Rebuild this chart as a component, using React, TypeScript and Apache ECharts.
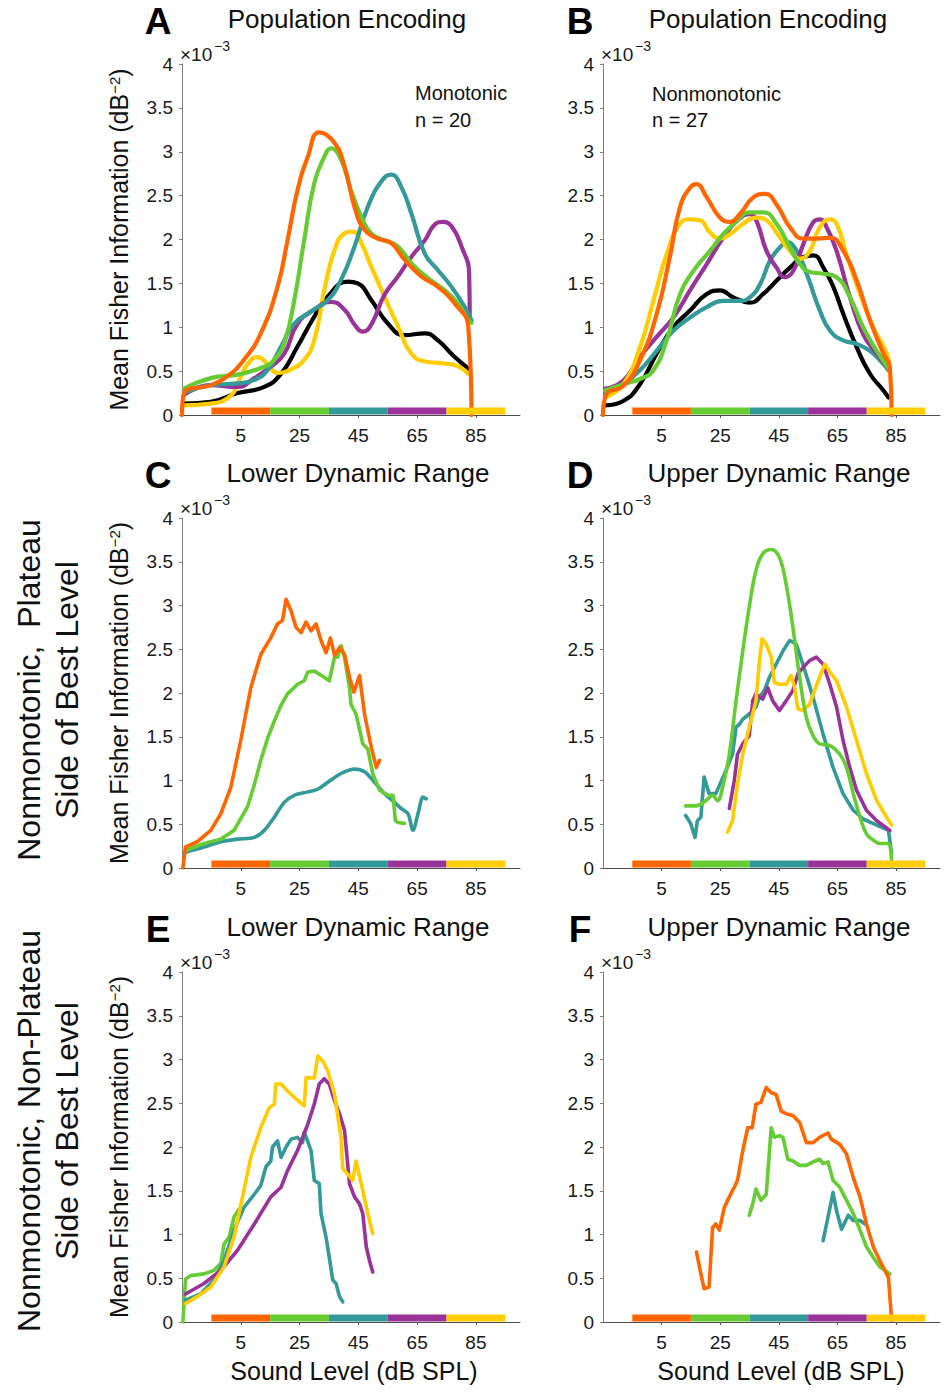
import React, { useEffect, useRef } from 'react';
import * as echarts from 'echarts';

const FONT = '"Liberation Sans", Arial, Helvetica, sans-serif';
const ORANGE = '#FF6600';
const GREEN = '#66CC33';
const TEAL = '#339999';
const PURPLE = '#993399';
const YELLOW = '#FFCC00';
const BLACK = '#000000';

const xTicks = [5, 25, 45, 65, 85];
const bandStarts = [-5, 15, 35, 55, 75];
const bandWidth = 20;
const bandColors = [ORANGE, GREEN, TEAL, PURPLE, YELLOW];

// Panel A (Monotonic, population encoding)
const aBlack = [[-14.3,0.13],[-5.2,0.15],[3.9,0.25],[13.0,0.32],[18.7,0.47],[24.3,0.78],[30.0,1.12],[34.6,1.35],[41.4,1.52],[44.8,1.50],[49.4,1.31],[55.1,1.04],[60.7,0.91],[67.6,0.93],[72.1,0.85],[77.8,0.66],[82.4,0.53]];
const aYellow = [[-14.3,0.11],[-5.2,0.13],[1.6,0.22],[4.5,0.40],[7.3,0.58],[10.7,0.66],[14.1,0.58],[17.5,0.48],[22.1,0.52],[26.6,0.63],[30.0,0.85],[33.4,1.42],[36.9,1.88],[40.3,2.07],[43.1,2.09],[46.0,1.96],[49.4,1.69],[53.9,1.35],[58.5,1.01],[63.0,0.70],[67.6,0.61],[73.3,0.59],[77.8,0.57],[82.4,0.47]];
const aPurple = [[-14.3,0.23],[-5.2,0.34],[3.9,0.32],[9.6,0.42],[15.2,0.55],[19.8,0.70],[24.3,1.04],[30.0,1.20],[35.7,1.29],[40.3,1.20],[43.7,1.03],[46.5,0.95],[49.4,1.03],[53.9,1.37],[58.5,1.58],[63.0,1.80],[67.6,1.99],[71.0,2.17],[73.8,2.20],[76.7,2.15],[80.1,1.92],[82.7,1.61],[82.9,1.08]];
const aTeal = [[-14.3,0.25],[-5.2,0.34],[3.9,0.36],[9.6,0.40],[14.1,0.51],[18.7,0.78],[23.2,1.04],[28.9,1.18],[34.6,1.31],[39.1,1.54],[43.7,1.92],[48.2,2.37],[52.8,2.66],[56.2,2.74],[59.6,2.60],[63.0,2.30],[67.6,1.84],[72.1,1.65],[76.7,1.46],[81.2,1.23],[83.5,1.08]];
const aGreen = [[-14.3,0.30],[-5.2,0.42],[3.9,0.46],[13.0,0.55],[16.4,0.63],[19.8,0.82],[23.2,1.31],[26.6,2.00],[30.0,2.64],[33.4,2.94],[35.7,3.04],[39.1,2.91],[42.5,2.56],[46.0,2.26],[49.4,2.07],[53.9,1.99],[58.5,1.92],[63.0,1.73],[68.7,1.56],[74.4,1.42],[78.9,1.27],[82.4,1.08],[83.5,1.05]];
const aOrange = [[-15,0],[-14.3,0.25],[-5.2,0.34],[0.4,0.44],[6.1,0.63],[11.8,0.93],[17.5,1.46],[20.9,1.99],[24.3,2.56],[27.8,2.94],[31.7,3.22],[36.9,3.10],[40.3,2.83],[43.7,2.37],[47.1,2.11],[51.6,2.01],[56.2,1.96],[60.7,1.77],[66.4,1.58],[72.1,1.46],[77.8,1.27],[82.4,1.01],[83.5,0]];

// Panel B (Nonmonotonic, population encoding)
const bBlack = [[-14.3,0.11],[-8.1,0.16],[-2.4,0.35],[3.3,0.70],[9.0,1.00],[14.7,1.19],[20.4,1.38],[24.9,1.42],[29.5,1.34],[35.1,1.28],[39.7,1.38],[44.2,1.53],[48.8,1.68],[53.4,1.80],[56.8,1.82],[60.2,1.68],[63.6,1.46],[67.0,1.15],[71.6,0.77],[76.1,0.47],[80.7,0.28],[82.4,0.20]];
const bTeal = [[-14.3,0.24],[-8.1,0.35],[-2.4,0.51],[3.3,0.73],[9.0,0.96],[14.7,1.11],[20.4,1.23],[26.0,1.30],[31.7,1.30],[35.1,1.34],[38.6,1.49],[42.0,1.76],[45.4,1.91],[47.7,1.97],[51.1,1.87],[54.5,1.61],[59.0,1.19],[62.5,0.96],[67.0,0.85],[71.6,0.81],[76.1,0.73],[80.7,0.58],[82.4,0.51]];
const bPurple = [[-14.3,0.30],[-8.1,0.39],[-2.4,0.66],[3.3,0.89],[9.0,1.11],[14.7,1.42],[20.4,1.72],[26.0,2.02],[30.6,2.21],[35.1,2.29],[37.4,2.21],[40.8,1.87],[44.2,1.68],[47.1,1.57],[49.9,1.64],[53.4,1.95],[56.8,2.20],[59.0,2.23],[61.3,2.14],[64.7,1.87],[69.3,1.34],[73.8,0.92],[78.4,0.70],[82.9,0.51]];
const bYellow = [[-14.3,0.20],[-8.1,0.35],[-2.4,0.77],[2.2,1.30],[6.7,1.83],[11.3,2.18],[14.7,2.23],[18.1,2.22],[21.5,2.08],[24.9,2.01],[28.3,2.06],[32.9,2.18],[37.4,2.25],[40.8,2.22],[44.2,2.08],[48.8,1.87],[52.2,1.78],[55.6,1.87],[59.0,2.14],[62.5,2.23],[64.7,2.18],[68.1,1.83],[72.7,1.38],[77.2,1.00],[81.8,0.70],[82.9,0.54]];
const bGreen = [[-14.3,0.28],[-8.1,0.35],[-2.4,0.41],[2.2,0.51],[6.7,0.85],[11.3,1.38],[15.8,1.64],[21.5,1.87],[26.0,2.06],[30.6,2.21],[35.1,2.31],[39.7,2.31],[44.2,2.18],[48.8,1.91],[52.2,1.72],[55.6,1.63],[60.2,1.61],[64.7,1.57],[69.3,1.34],[73.8,1.00],[78.4,0.73],[82.9,0.51]];
const bOrange = [[-15,0],[-13.8,0.24],[-8.1,0.33],[-2.4,0.62],[3.3,1.15],[7.8,1.80],[11.3,2.37],[14.7,2.59],[16.9,2.63],[20.4,2.48],[24.9,2.25],[28.3,2.20],[31.7,2.29],[36.3,2.48],[40.3,2.52],[44.2,2.40],[48.8,2.14],[53.4,2.01],[57.9,2.01],[62.5,2.02],[67.0,1.87],[71.6,1.53],[76.1,1.08],[80.7,0.70],[82.9,0.54],[83.5,0]];

// Panel C (plateau side, lower dynamic range)
const cTeal = [[-13.8,0.18],[-7.5,0.24],[-1.8,0.30],[3.9,0.33],[9.6,0.35],[13.0,0.43],[16.4,0.58],[19.8,0.75],[23.2,0.83],[27.8,0.87],[31.2,0.90],[34.6,0.98],[39.1,1.08],[43.7,1.13],[47.1,1.10],[50.5,0.98],[53.9,0.85],[57.3,0.75],[59.6,0.68],[61.9,0.62],[63.6,0.43],[65.3,0.62],[67.0,0.81],[68.1,0.79]];
const cGreen = [[-13.8,0.20],[-7.5,0.28],[-1.8,0.33],[2.7,0.43],[7.3,0.70],[9.6,0.95],[11.8,1.23],[14.1,1.48],[16.4,1.68],[18.7,1.86],[20.9,1.99],[24.3,2.10],[26.6,2.14],[27.8,2.24],[30.0,2.25],[33.4,2.18],[35.1,2.14],[36.9,2.41],[38.0,2.41],[39.1,2.54],[40.3,2.41],[42.0,2.06],[42.5,1.87],[44.2,1.76],[46.5,1.42],[48.2,1.36],[49.9,1.08],[52.2,0.89],[55.1,0.83],[56.8,0.83],[57.6,0.54],[58.5,0.52],[60.7,0.51]];
const cOrange = [[-14.7,0],[-13.8,0.24],[-9.8,0.30],[-5.2,0.43],[-1.8,0.62],[1.6,0.92],[5.0,1.46],[8.4,2.06],[11.8,2.44],[15.2,2.63],[17.5,2.79],[19.2,2.83],[20.4,3.07],[22.1,2.94],[23.8,2.75],[25.5,2.69],[27.2,2.81],[28.9,2.71],[30.6,2.79],[32.3,2.60],[34.0,2.46],[35.5,2.63],[36.9,2.43],[38.6,2.52],[40.3,2.44],[42.0,2.18],[43.5,2.01],[45.4,2.20],[47.1,1.76],[49.4,1.38],[51.1,1.15],[52.2,1.23]];

// Panel D (plateau side, upper dynamic range)
const dTeal = [[13.2,0.60],[14.9,0.51],[16.4,0.35],[17.2,0.54],[18.4,0.58],[19.5,1.04],[21.2,0.85],[23.5,0.85],[25.2,0.98],[26.9,1.11],[29.2,1.30],[30.4,1.61],[31.5,1.64],[32.7,1.70],[34.9,1.76],[37.2,1.84],[38.4,1.95],[40.1,2.03],[41.8,2.18],[44.1,2.33],[46.4,2.48],[48.7,2.60],[50.9,2.56],[53.2,2.33],[56.7,1.95],[60.1,1.53],[63.5,1.15],[66.9,0.85],[70.4,0.66],[73.8,0.56],[78.4,0.49],[82.4,0.43],[83.5,0.16]];
const dPurple = [[28.1,0.68],[29.8,1.00],[30.9,1.30],[32.7,1.42],[34.9,1.51],[36.1,1.91],[37.2,1.99],[39.5,1.93],[41.2,2.06],[42.9,1.91],[45.2,1.80],[47.5,1.91],[49.8,2.03],[51.5,2.22],[53.2,2.29],[55.5,2.37],[57.8,2.41],[60.1,2.33],[62.4,2.10],[64.7,1.84],[66.9,1.46],[69.2,1.15],[71.5,0.89],[74.9,0.66],[78.4,0.54],[82.9,0.43]];
const dYellow = [[27.5,0.41],[29.2,0.54],[30.9,0.96],[32.7,1.30],[34.9,1.61],[37.2,1.91],[38.4,2.37],[39.3,2.62],[40.7,2.56],[42.4,2.41],[43.5,2.12],[45.2,2.10],[47.5,2.10],[49.2,2.20],[50.4,2.06],[51.5,1.82],[53.2,1.80],[55.5,1.87],[57.2,2.03],[58.9,2.18],[60.7,2.33],[62.4,2.24],[64.7,2.14],[68.1,1.84],[71.5,1.46],[74.9,1.08],[78.4,0.77],[81.8,0.58],[83.5,0.49]];
const dGreen = [[13.2,0.71],[16.7,0.71],[20.1,0.77],[22.4,0.83],[24.1,0.77],[25.8,0.92],[28.1,1.30],[30.4,1.91],[32.7,2.48],[34.9,2.98],[37.2,3.40],[39.5,3.59],[42.4,3.64],[45.2,3.55],[47.5,3.24],[49.8,2.75],[52.1,2.18],[54.4,1.72],[56.7,1.51],[58.9,1.42],[62.4,1.40],[65.8,1.30],[68.1,1.15],[70.4,0.85],[72.7,0.58],[74.9,0.39],[77.2,0.32],[79.5,0.28],[82.4,0.28],[83.5,0.01]];

// Panel E (non-plateau side, lower dynamic range)
const eGreen = [[-14.7,0],[-13.8,0.49],[-12.1,0.53],[-7.5,0.55],[-4.1,0.59],[-1.8,0.67],[-0.7,0.89],[1.0,0.97],[2.7,1.20],[4.4,1.29]];
const eTeal = [[-13.8,0.25],[-8.7,0.32],[-4.1,0.48],[-0.7,0.70],[2.7,1.05],[6.1,1.31],[9.6,1.46],[11.8,1.56],[13.5,1.77],[15.2,1.84],[15.8,2.00],[17.5,2.07],[18.7,1.88],[20.4,2.00],[22.1,2.09],[24.3,2.11],[26.0,2.05],[26.6,2.17],[28.9,1.96],[30.0,1.62],[31.7,1.58],[32.3,1.24],[34.0,0.97],[35.1,0.74],[36.3,0.48],[37.4,0.44],[38.6,0.29],[39.7,0.23]];
const ePurple = [[-13.8,0.32],[-7.5,0.44],[-1.8,0.59],[3.9,0.82],[9.6,1.12],[15.2,1.43],[18.7,1.54],[20.9,1.73],[24.3,1.96],[27.8,2.26],[30.0,2.49],[31.7,2.72],[33.4,2.78],[35.1,2.72],[36.9,2.53],[38.6,2.38],[40.3,2.19],[42.0,1.58],[43.7,1.43],[45.4,1.35],[46.5,1.24],[47.7,0.86],[48.8,0.70],[49.9,0.57]];
const eYellow = [[-13.8,0.21],[-9.8,0.29],[-5.2,0.40],[-0.7,0.63],[2.7,0.97],[5.6,1.43],[8.4,1.88],[11.8,2.22],[14.7,2.45],[16.4,2.49],[16.9,2.72],[18.7,2.72],[20.9,2.64],[23.8,2.55],[26.6,2.47],[27.2,2.79],[30.0,2.79],[31.2,3.04],[32.9,2.98],[34.6,2.87],[36.9,2.60],[39.1,2.11],[39.7,1.75],[41.4,1.69],[43.1,1.62],[44.2,1.84],[46.0,1.58],[48.2,1.24],[49.9,1.01]];

// Panel F (non-plateau side, upper dynamic range)
const fTeal = [[60.1,0.93],[61.8,1.20],[63.5,1.48],[64.7,1.27],[66.4,1.06],[68.7,1.22],[70.4,1.16],[72.7,1.16],[74.4,1.12]];
const fGreen = [[34.9,1.22],[36.1,1.35],[37.2,1.52],[38.9,1.39],[40.7,1.46],[42.4,2.22],[43.5,2.11],[45.2,2.13],[46.4,2.11],[48.1,1.86],[49.8,1.84],[52.1,1.79],[54.4,1.79],[56.7,1.83],[58.9,1.86],[60.1,1.81],[61.8,1.83],[63.5,1.62],[65.8,1.54],[68.1,1.39],[70.4,1.24],[72.7,1.05],[74.9,0.86],[77.2,0.74],[79.5,0.63],[82.9,0.55]];
const fOrange = [[16.9,0.80],[18.4,0.55],[19.5,0.38],[21.2,0.40],[22.4,1.08],[23.5,1.12],[24.7,1.05],[26.4,1.31],[28.1,1.43],[29.8,1.54],[30.9,1.62],[32.7,1.96],[34.4,2.22],[35.9,2.22],[37.2,2.49],[38.9,2.51],[40.7,2.68],[42.4,2.62],[44.1,2.60],[45.8,2.41],[47.5,2.38],[49.8,2.36],[52.1,2.28],[54.4,2.05],[56.7,2.05],[58.9,2.11],[61.8,2.16],[62.9,2.09],[65.8,2.03],[68.1,1.92],[70.4,1.65],[72.7,1.43],[74.9,1.12],[77.2,0.86],[79.5,0.70],[82.4,0.51],[83.5,0.02]];

const panelLetters = ['A', 'B', 'C', 'D', 'E', 'F'];
const panelTitles = ['Population Encoding', 'Population Encoding', 'Lower Dynamic Range', 'Upper Dynamic Range', 'Lower Dynamic Range', 'Upper Dynamic Range'];

type S = { data: number[][]; color: string; smooth: number | boolean };

const panels: { lines: S[]; width: number }[] = [
  { width: 4.2, lines: [
    { data: aBlack, color: BLACK, smooth: 0.5 },
    { data: aYellow, color: YELLOW, smooth: 0.5 },
    { data: aPurple, color: PURPLE, smooth: 0.5 },
    { data: aTeal, color: TEAL, smooth: 0.5 },
    { data: aGreen, color: GREEN, smooth: 0.5 },
    { data: aOrange, color: ORANGE, smooth: 0.5 },
  ] },
  { width: 4.2, lines: [
    { data: bBlack, color: BLACK, smooth: 0.5 },
    { data: bTeal, color: TEAL, smooth: 0.5 },
    { data: bPurple, color: PURPLE, smooth: 0.5 },
    { data: bYellow, color: YELLOW, smooth: 0.5 },
    { data: bGreen, color: GREEN, smooth: 0.5 },
    { data: bOrange, color: ORANGE, smooth: 0.5 },
  ] },
  { width: 3.6, lines: [
    { data: cTeal, color: TEAL, smooth: 0.3 },
    { data: cGreen, color: GREEN, smooth: false },
    { data: cOrange, color: ORANGE, smooth: false },
  ] },
  { width: 3.6, lines: [
    { data: dTeal, color: TEAL, smooth: false },
    { data: dPurple, color: PURPLE, smooth: false },
    { data: dYellow, color: YELLOW, smooth: false },
    { data: dGreen, color: GREEN, smooth: 0.4 },
  ] },
  { width: 3.6, lines: [
    { data: eGreen, color: GREEN, smooth: false },
    { data: eTeal, color: TEAL, smooth: false },
    { data: ePurple, color: PURPLE, smooth: false },
    { data: eYellow, color: YELLOW, smooth: false },
  ] },
  { width: 3.6, lines: [
    { data: fTeal, color: TEAL, smooth: false },
    { data: fGreen, color: GREEN, smooth: false },
    { data: fOrange, color: ORANGE, smooth: false },
  ] },
];

const colLeft = [182, 603];
const colWidth = [338, 337];
const rowTop = [64, 518, 972];
const rowHeight = [351, 350, 350];

function buildOption() {
  const grid: any[] = [];
  const xAxis: any[] = [];
  const yAxis: any[] = [];
  const series: any[] = [];
  const graphic: any[] = [];

  for (let i = 0; i < 6; i++) {
    const r = Math.floor(i / 2);
    const c = i % 2;
    grid.push({ left: colLeft[c], top: rowTop[r], width: colWidth[c], height: rowHeight[r], containLabel: false });
    xAxis.push({
      type: 'value', gridIndex: i, min: -15, max: 100,
      axisLine: { show: true, onZero: false, lineStyle: { color: '#4d4d4d', width: 1 } },
      axisTick: { show: true, customValues: xTicks, length: 3, lineStyle: { color: '#4d4d4d' } },
      axisLabel: { customValues: xTicks, fontSize: 19, fontFamily: FONT, color: '#1a1a1a', margin: 11 },
      splitLine: { show: false },
    });
    yAxis.push({
      type: 'value', gridIndex: i, min: 0, max: 4, interval: 0.5,
      axisLine: { show: true, onZero: false, lineStyle: { color: '#808080', width: 1 } },
      axisTick: { show: true, length: 3, lineStyle: { color: '#808080' } },
      axisLabel: { fontSize: 19, fontFamily: FONT, color: '#1a1a1a', margin: 9 },
      splitLine: { show: false },
    });
    panels[i].lines.forEach((ln) => {
      series.push({
        type: 'line', xAxisIndex: i, yAxisIndex: i, data: ln.data,
        showSymbol: false, symbol: 'none', smooth: ln.smooth,
        lineStyle: { color: ln.color, width: panels[i].width, cap: 'round', join: 'round' },
        itemStyle: { color: ln.color }, z: 2, silent: true,
      });
    });
    bandStarts.forEach((s, k) => {
      series.push({
        type: 'line', xAxisIndex: i, yAxisIndex: i,
        data: [[s, 0.045], [s + bandWidth, 0.045]],
        showSymbol: false, symbol: 'none',
        lineStyle: { color: bandColors[k], width: 7, cap: 'butt' },
        itemStyle: { color: bandColors[k] }, z: 3, silent: true,
      });
    });

    const dy = rowTop[r] - rowTop[0];
    const letterX = c === 0 ? 158 : 580;
    const titleX = [347, 768, 358, 779, 358, 779][i];
    graphic.push({ type: 'text', x: letterX, y: 21.5 + dy, style: { text: panelLetters[i], fontSize: 37, fontWeight: 'bold', fontFamily: FONT, fill: '#000', textAlign: 'center', textVerticalAlign: 'middle' } });
    graphic.push({ type: 'text', x: titleX, y: 19 + dy, style: { text: panelTitles[i], fontSize: 26, fontFamily: FONT, fill: '#111', textAlign: 'center', textVerticalAlign: 'middle' } });
    const ax = colLeft[c] - 2;
    graphic.push({ type: 'text', x: ax, y: 54 + dy, style: { text: '×10', fontSize: 19, fontFamily: FONT, fill: '#1a1a1a', textAlign: 'left', textVerticalAlign: 'middle' } });
    graphic.push({ type: 'text', x: ax + 34, y: 46 + dy, style: { text: '−3', fontSize: 14, fontFamily: FONT, fill: '#1a1a1a', textAlign: 'left', textVerticalAlign: 'middle' } });
    if (c === 0) {
      const cy = rowTop[r] + rowHeight[r] / 2;
      graphic.push({
        type: 'text', x: 119, y: cy, rotation: Math.PI / 2,
        style: {
          text: 'Mean Fisher Information (dB{sup|−2})', fontSize: 25, fontFamily: FONT, fill: '#111',
          textAlign: 'center', textVerticalAlign: 'middle',
          rich: { sup: { fontSize: 15, fontFamily: FONT, fill: '#111', verticalAlign: 'top' } },
        },
      });
    }
  }

  graphic.push({ type: 'text', x: 415, y: 93, style: { text: 'Monotonic', fontSize: 20, fontFamily: FONT, fill: '#111', textAlign: 'left', textVerticalAlign: 'middle' } });
  graphic.push({ type: 'text', x: 415, y: 120, style: { text: 'n = 20', fontSize: 20, fontFamily: FONT, fill: '#111', textAlign: 'left', textVerticalAlign: 'middle' } });
  graphic.push({ type: 'text', x: 652, y: 94, style: { text: 'Nonmonotonic', fontSize: 20, fontFamily: FONT, fill: '#111', textAlign: 'left', textVerticalAlign: 'middle' } });
  graphic.push({ type: 'text', x: 652, y: 120, style: { text: 'n = 27', fontSize: 20, fontFamily: FONT, fill: '#111', textAlign: 'left', textVerticalAlign: 'middle' } });

  const rowLabels = [
    { a: 'Nonmonotonic,  Plateau', y: 690 },
    { a: 'Nonmonotonic, Non-Plateau', y: 1131 },
  ];
  rowLabels.forEach((rl) => {
    graphic.push({ type: 'text', x: 29, y: rl.y, rotation: Math.PI / 2, style: { text: rl.a, fontSize: 32, fontFamily: FONT, fill: '#111', textAlign: 'center', textVerticalAlign: 'middle' } });
    graphic.push({ type: 'text', x: 66.5, y: rl.y, rotation: Math.PI / 2, style: { text: 'Side of Best Level', fontSize: 32, fontFamily: FONT, fill: '#111', textAlign: 'center', textVerticalAlign: 'middle' } });
  });

  [354, 781].forEach((x) => {
    graphic.push({ type: 'text', x, y: 1371, style: { text: 'Sound Level (dB SPL)', fontSize: 25, fontFamily: FONT, fill: '#111', textAlign: 'center', textVerticalAlign: 'middle' } });
  });

  return {
    animation: false,
    backgroundColor: '#ffffff',
    grid, xAxis, yAxis, series, graphic,
  };
}

export default function App() {
  const ref = useRef<HTMLDivElement>(null);
  useEffect(() => {
    document.body.style.margin = '0';
    if (!ref.current) return;
    const chart = echarts.init(ref.current, null, { renderer: 'svg' });
    chart.setOption(buildOption() as any);
    return () => chart.dispose();
  }, []);
  return <div ref={ref} style={{ width: 951, height: 1393 }} />;
}
